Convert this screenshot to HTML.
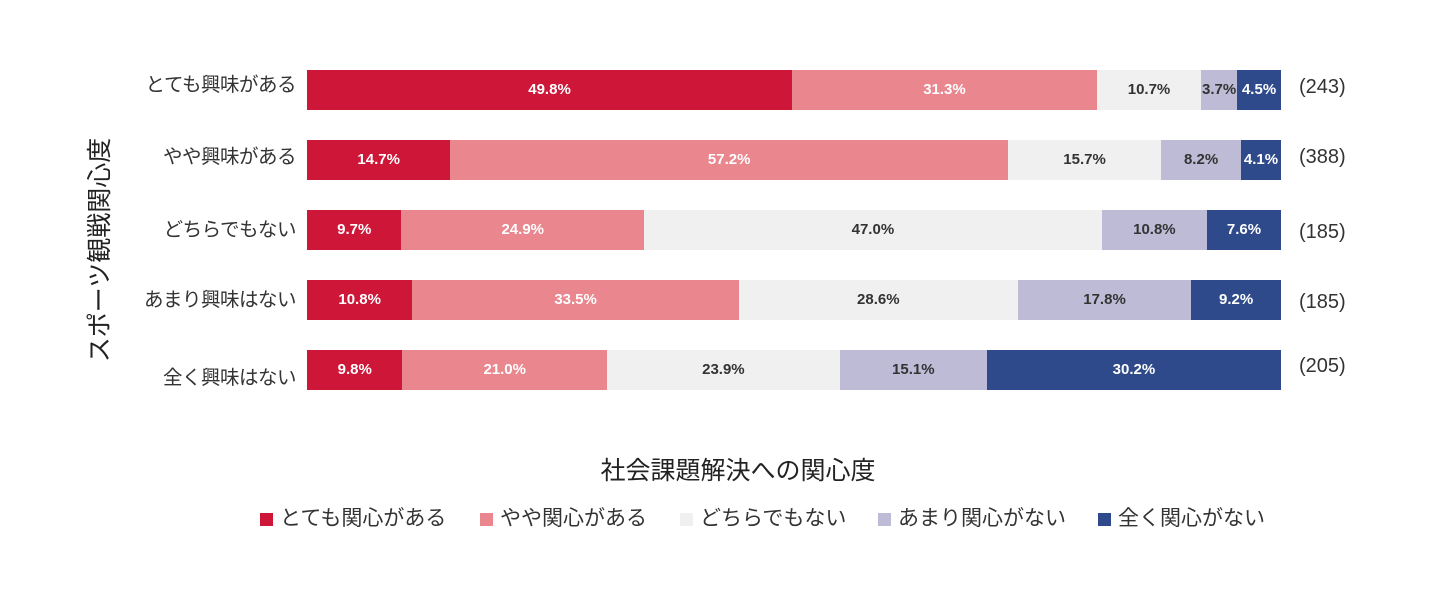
<!DOCTYPE html>
<html><head><meta charset="utf-8"><style>
body{margin:0;width:1440px;height:598px;background:#fff;font-family:"Liberation Sans","Noto Sans CJK JP",sans-serif;position:relative;overflow:hidden}
.bar{position:absolute;left:307px;width:974px;height:40px;display:flex}
.bar div{height:40px;line-height:40px;text-align:center;font-size:15px;font-weight:bold;white-space:nowrap;overflow:visible;display:flex;justify-content:center}
.a{background:#CE1638;color:#fff}.b{background:#E9868E;color:#fff}.c{background:#F0F0F0;color:#333}.d{background:#BDBBD6;color:#333}.e{background:#2E4A8A;color:#fff}
.cat{position:absolute;right:1144px;font-size:19.5px;color:#333;line-height:40px;white-space:nowrap;letter-spacing:-0.5px}
.n{position:absolute;left:1299px;font-size:20px;color:#333;line-height:40px}
.leg{position:absolute;top:506px;font-size:21px;color:#333;line-height:26px;white-space:nowrap}
.leg span{display:inline-block;width:13px;height:13px;margin-right:7px;vertical-align:-1px}
</style></head><body>
<div style="position:absolute;left:-30px;top:236px;width:260px;height:28px;line-height:28px;text-align:center;transform:rotate(-90deg);font-size:25px;color:#222">スポーツ観戦関心度</div>

<div class="cat" style="top:65px">とても興味がある</div>
<div class="cat" style="top:137px">やや興味がある</div>
<div class="cat" style="top:210px">どちらでもない</div>
<div class="cat" style="top:280px">あまり興味はない</div>
<div class="cat" style="top:358px">全く興味はない</div>

<div class="bar" style="top:70px"><div class="a" style="flex:49.8">49.8%</div><div class="b" style="flex:31.3">31.3%</div><div class="c" style="flex:10.7">10.7%</div><div class="d" style="flex:3.7">3.7%</div><div class="e" style="flex:4.5">4.5%</div></div>
<div class="bar" style="top:140px"><div class="a" style="flex:14.7">14.7%</div><div class="b" style="flex:57.2">57.2%</div><div class="c" style="flex:15.7">15.7%</div><div class="d" style="flex:8.2">8.2%</div><div class="e" style="flex:4.1">4.1%</div></div>
<div class="bar" style="top:210px"><div class="a" style="flex:9.7">9.7%</div><div class="b" style="flex:24.9">24.9%</div><div class="c" style="flex:47.0">47.0%</div><div class="d" style="flex:10.8">10.8%</div><div class="e" style="flex:7.6">7.6%</div></div>
<div class="bar" style="top:280px"><div class="a" style="flex:10.8">10.8%</div><div class="b" style="flex:33.5">33.5%</div><div class="c" style="flex:28.6">28.6%</div><div class="d" style="flex:17.8">17.8%</div><div class="e" style="flex:9.2">9.2%</div></div>
<div class="bar" style="top:350px"><div class="a" style="flex:9.8">9.8%</div><div class="b" style="flex:21.0">21.0%</div><div class="c" style="flex:23.9">23.9%</div><div class="d" style="flex:15.1">15.1%</div><div class="e" style="flex:30.2">30.2%</div></div>

<div class="n" style="top:67px">(243)</div>
<div class="n" style="top:137px">(388)</div>
<div class="n" style="top:212px">(185)</div>
<div class="n" style="top:282px">(185)</div>
<div class="n" style="top:346px">(205)</div>

<div style="position:absolute;left:0;width:1476px;text-align:center;top:451px;font-size:25px;color:#222">社会課題解決への関心度</div>

<div class="leg" style="left:260px"><span style="background:#CE1638"></span>とても関心がある</div>
<div class="leg" style="left:480px"><span style="background:#E9868E"></span>やや関心がある</div>
<div class="leg" style="left:680px"><span style="background:#F0F0F0"></span>どちらでもない</div>
<div class="leg" style="left:878px"><span style="background:#BDBBD6"></span>あまり関心がない</div>
<div class="leg" style="left:1098px"><span style="background:#2E4A8A"></span>全く関心がない</div>
</body></html>
